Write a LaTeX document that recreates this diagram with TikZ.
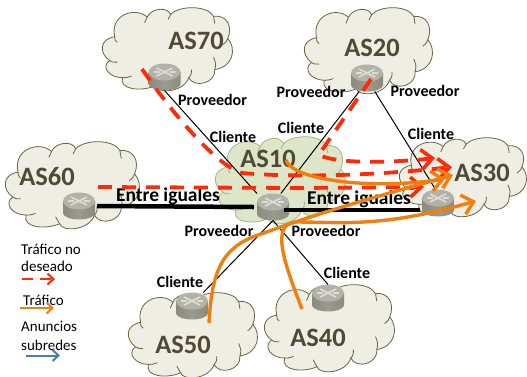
\documentclass[tikz,border=0pt]{standalone}
\usepackage{fontspec}
\setmainfont{Carlito}
\usetikzlibrary{arrows.meta,calc}
\definecolor{cloudfill}{HTML}{EEEEE4}
\definecolor{cloudline}{HTML}{6B6347}
\definecolor{greenfill}{HTML}{DEE6CA}
\definecolor{greenline}{HTML}{A3B77F}
\definecolor{astext}{HTML}{4F4A33}
\definecolor{redflow}{HTML}{FF2A0A}
\definecolor{orangeflow}{HTML}{EE8010}
\definecolor{blueflow}{HTML}{4A7EB0}
\definecolor{routertop}{HTML}{B2B2A8}
\definecolor{routerside}{HTML}{9A9A8E}
\definecolor{routeredge}{HTML}{8A8A7E}
\tikzset{
  rnode/.style={minimum width=32pt,minimum height=27pt,inner sep=0pt,outer sep=0pt},
  aslabel/.style={text=astext,font=\fontsize{26.5}{28}\selectfont\bfseries,inner sep=0pt},
  rolelabel/.style={font=\fontsize{16}{18}\selectfont\bfseries,inner sep=0pt},
  peerlabel/.style={font=\fontsize{19.5}{22}\selectfont\bfseries,inner sep=0pt},
  legendlabel/.style={font=\fontsize{15}{17}\selectfont,inner sep=0pt,anchor=west},
  link/.style={black,line width=1pt},
  peerlink/.style={black,line width=4.5pt},
  redpath/.style={redflow,line width=3.8pt,dash pattern=on 14pt off 10pt,-{Straight Barb[length=11pt,width=20pt,line width=3.6pt]}},
  orangepath/.style={orangeflow,line width=3.4pt,-{Straight Barb[length=11pt,width=20pt,line width=3.4pt]}},
  legendred/.style={redflow,line width=2pt,dash pattern=on 11pt off 7pt,-{Straight Barb[length=6pt,width=11pt,line width=2pt]}},
  legendorange/.style={orangeflow,line width=2pt,-{Straight Barb[length=6pt,width=11pt,line width=2pt]}},
  legendblue/.style={blueflow,line width=2pt,-{Straight Barb[length=6pt,width=11pt,line width=2pt]}},
}
% x y w h fill line
\newcommand{\mycloud}[6]{%
\begin{scope}[shift={(#1,#2)},x=#3pt,y=-#4pt,draw=#6,fill=#5,line width=.8pt]
\filldraw (0.05,0.64) .. controls (-0.03,0.55) and (-0.03,0.38) .. (0.09,0.35)
 .. controls (0.05,0.08) and (0.25,-0.02) .. (0.34,0.11)
 .. controls (0.37,0) and (0.5,-0.02) .. (0.52,0.08)
 .. controls (0.58,-0.03) and (0.8,-0.04) .. (0.85,0.10)
 .. controls (0.95,0.08) and (1.0,0.22) .. (0.96,0.37)
 .. controls (1.03,0.5) and (1.0,0.72) .. (0.86,0.75)
 .. controls (0.87,0.92) and (0.7,0.98) .. (0.66,0.85)
 .. controls (0.62,1.03) and (0.42,1.05) .. (0.40,0.95)
 .. controls (0.3,1.02) and (0.12,1.0) .. (0.15,0.85)
 .. controls (0.05,0.85) and (-0.02,0.72) .. (0.05,0.64) -- cycle;
\draw (0.05,0.64) .. controls (0.07,0.66) .. (0.11,0.66)
 (0.09,0.35) .. controls (0.09,0.39) .. (0.11,0.42)
 (0.34,0.11) .. controls (0.33,0.14) .. (0.32,0.18)
 (0.52,0.08) .. controls (0.51,0.11) .. (0.50,0.14)
 (0.85,0.10) .. controls (0.86,0.14) .. (0.86,0.19)
 (0.96,0.37) .. controls (0.95,0.41) .. (0.92,0.45)
 (0.86,0.75) .. controls (0.87,0.68) .. (0.85,0.60)
 (0.66,0.85) .. controls (0.68,0.81) .. (0.68,0.75)
 (0.40,0.95) .. controls (0.39,0.91) .. (0.37,0.87)
 (0.15,0.85) .. controls (0.18,0.85) .. (0.22,0.83);
\end{scope}}
% router drawn over a named node
\newcommand{\myrouter}[1]{%
\begin{scope}[shift={(#1.center)}]
\path[left color=routeredge,right color=routeredge,middle color=routerside]
  (-16,-5) -- (-16,7) arc[start angle=180,end angle=0,x radius=16,y radius=6.5] -- (16,-5) -- cycle;
\fill[routertop] (0,-5) ellipse[x radius=16,y radius=8.5];
\draw[white,line width=1.6pt,opacity=.55] (-8,-9) -- (8,-1) (8,-9) -- (-8,-1)
  (-11,-5) -- (-5,-5) (5,-5) -- (11,-5);
\end{scope}}
\begin{document}
\begin{tikzpicture}[x=1pt,y=-1pt]
\useasboundingbox (0,0) rectangle (527,376);
\fill[white] (0,0) rectangle (527,376);
% clouds
\mycloud{103}{8}{130}{82}{cloudfill}{cloudline}
\mycloud{305}{8}{128}{85}{cloudfill}{cloudline}
\mycloud{6}{142}{134}{86}{cloudfill}{cloudline}
\mycloud{216}{137}{130}{86}{greenfill}{greenline}
\mycloud{400}{138}{127}{78}{cloudfill}{cloudline}
\mycloud{129}{293}{129}{84}{cloudfill}{cloudline}
\mycloud{265}{285}{130}{86}{cloudfill}{cloudline}
% routers
\node[rnode] (r70) at (164.5,77) {};
\node[rnode] (r20) at (367,78) {};
\node[rnode] (r60) at (79,206) {};
\node[rnode] (r10) at (273,207) {};
\node[rnode] (r30) at (438,203) {};
\node[rnode] (r50) at (192,306) {};
\node[rnode] (r40) at (328,298) {};
\myrouter{r70}\myrouter{r20}\myrouter{r60}\myrouter{r10}\myrouter{r30}\myrouter{r50}\myrouter{r40}
% AS labels
\node[aslabel] (a70) at (196,41) {AS70};
\node[aslabel] (a20) at (372,48) {AS20};
\node[aslabel] (a60) at (47,177) {AS60};
\node[aslabel] (a10) at (268,159) {AS10};
\node[aslabel] (a30) at (482,173) {AS30};
\node[aslabel] (a50) at (183,345) {AS50};
\node[aslabel] (a40) at (318,338) {AS40};
% links
\draw[link] (r70.south) -- (r10.north west);
\draw[link] (r20.-120) -- (r10.60);
\draw[link] (r20.-60) -- (r30.100);
\draw[link] (r10.south) -- (r50.50);
\draw[link] (r10.south) -- (r40.north);
\draw[peerlink] ($(r60.east)+(2,0)$) -- ($(r10.west)+(-3,0)$);
\draw[peerlink] ($(r10.east)+(-5,3)$) -- ($(r30.west)+(-2,7)$);
% labels
\node[rolelabel] (l1) at (212.5,100) {Proveedor};
\node[rolelabel] (l2) at (233,137) {Cliente};
\node[rolelabel] (l3) at (311,92) {Proveedor};
\node[rolelabel] (l4) at (425,91) {Proveedor};
\node[rolelabel] (l5) at (301,128) {Cliente};
\node[rolelabel] (l6) at (431,134) {Cliente};
\node[peerlabel] (l7) at (168,196) {Entre iguales};
\node[peerlabel] (l8) at (359,199) {Entre iguales};
\node[rolelabel] (l9) at (219,231) {Proveedor};
\node[rolelabel] (l10) at (326,231) {Proveedor};
\node[rolelabel] (l11) at (180,282) {Cliente};
\node[rolelabel] (l12) at (347,273) {Cliente};
% red flows
\coordinate (s70) at (142,69);
\coordinate (s20) at (371,79);
\coordinate (s60) at (98,187);
\coordinate (t1) at (435,158);
\coordinate (t2) at (452,167);
\coordinate (t3) at (424,187);
\draw[redpath] (s70) .. controls (170,110) and (215,165) .. (242,173) .. controls (300,178) and (380,175) .. (t2);
\draw[redpath] (s20) .. controls (350,110) and (325,145) .. (319,155) .. controls (340,165) and (400,162) .. (t1);
\draw[redpath] (s60) -- (300,188) -- (t3);
% orange flows
\coordinate (o1) at (286,160);
\coordinate (o2) at (209,323);
\coordinate (o3) at (302,309);
\coordinate (e1) at (445,179);
\coordinate (e2) at (453,175);
\coordinate (e3) at (476,201);
\draw[orangepath] (o1) .. controls (292,180) and (370,190) .. (e1);
\draw[orangepath] (o2) .. controls (212,265) and (225,245) .. (264,233) .. controls (320,212) and (400,190) .. (e2);
\draw[orangepath] (o3) .. controls (285,265) and (270,225) .. (295,222) .. controls (345,222) and (380,228) .. (e3);
% legend
\node[legendlabel] (t11) at (21,249) {Tráfico no};
\node[legendlabel] (t12) at (21,266) {deseado};
\node[legendlabel] (t21) at (23,300) {Tráfico};
\node[legendlabel] (t31) at (21,326) {Anuncios};
\node[legendlabel] (t32) at (21,345) {subredes};
\coordinate (k1) at (22,279); \coordinate (k2) at (55,279);
\coordinate (k3) at (20,308); \coordinate (k4) at (54,308);
\coordinate (k5) at (26,355.5); \coordinate (k6) at (60,355.5);
\draw[legendred] (k1) -- (k2);
\draw[legendorange] (k3) -- (k4);
\draw[legendblue] (k5) -- (k6);
\end{tikzpicture}
\end{document}
